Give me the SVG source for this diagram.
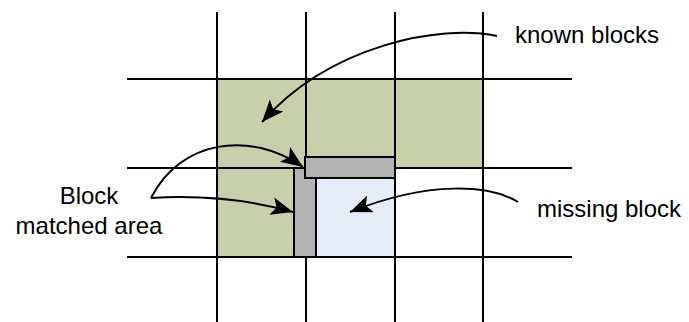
<svg xmlns="http://www.w3.org/2000/svg" width="689" height="322" viewBox="0 0 689 322">
  <style>
    .grid { stroke: #000; stroke-width: 2; fill: none; }
    .known { fill: #C8CFAB; }
    .missing { fill: #E6EDF8; }
    .match { fill: #B3B3B3; stroke: #000; stroke-width: 2; }
    .conn { stroke: #000; stroke-width: 2; fill: none; marker-end: url(#arrow); }
    .lbl { font-family: "Liberation Sans", Arial, sans-serif; font-size: 24px; fill: #000; }
  </style>
  <defs>
    <marker id="arrow" markerUnits="userSpaceOnUse" markerWidth="24" markerHeight="20" viewBox="0 0 24 20" refX="22" refY="10" orient="auto">
      <path d="M0,1 L22,10 L0,19 L5,10 Z" fill="#000"/>
    </marker>
  </defs>
  <rect width="689" height="322" fill="#fff"/>

  <g id="known-blocks">
    <rect class="known" x="217" y="79" width="266" height="89"/>
    <rect class="known" x="217" y="168" width="89" height="89"/>
  </g>
  <g id="missing-block">
    <rect class="missing" x="306" y="168" width="89" height="89"/>
  </g>

  <g id="grid">
    <line class="grid" x1="217" y1="12" x2="217" y2="322"/>
    <line class="grid" x1="306" y1="12" x2="306" y2="322"/>
    <line class="grid" x1="395" y1="12" x2="395" y2="322"/>
    <line class="grid" x1="483" y1="12" x2="483" y2="322"/>
    <line class="grid" x1="127" y1="79" x2="572" y2="79"/>
    <line class="grid" x1="127" y1="168" x2="572" y2="168"/>
    <line class="grid" x1="127" y1="257" x2="572" y2="257"/>
  </g>

  <g id="matched-area">
    <rect class="match" x="294" y="168" width="22" height="89"/>
    <rect class="match" x="305" y="157" width="90" height="21"/>
  </g>

  <g id="connectors">
    <path class="conn" d="M497,36 C440,24 330,45 262,122"/>
    <path class="conn" d="M151,198 C180,140 250,130 303,167"/>
    <path class="conn" d="M151,198 C200,195 250,200 293,212"/>
    <path class="conn" d="M518,202 C490,185 430,180 350,212"/>
  </g>

  <g id="label-known">
    <text class="lbl" x="515" y="43">known blocks</text>
  </g>
  <g id="label-matched">
    <text class="lbl" x="89" y="204" text-anchor="middle">Block</text>
    <text class="lbl" x="89" y="234" text-anchor="middle">matched area</text>
  </g>
  <g id="label-missing">
    <text class="lbl" x="537" y="217">missing block</text>
  </g>
</svg>
